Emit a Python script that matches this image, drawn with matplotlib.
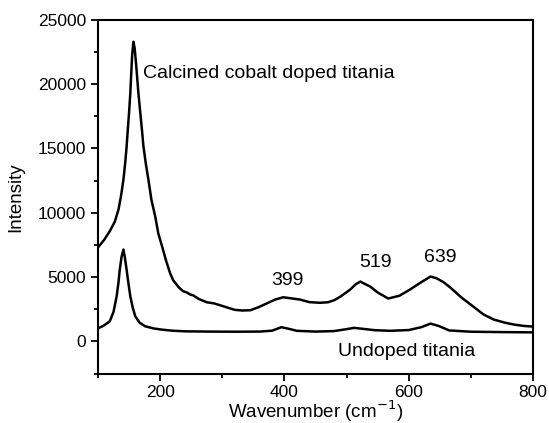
import matplotlib
matplotlib.use("Agg")
import matplotlib.pyplot as plt
from matplotlib.ticker import MultipleLocator

plt.rcParams['font.family'] = ['Liberation Sans', 'DejaVu Sans']

# Raman spectrum, calcined Co-doped TiO2
doped_wn = [100, 110, 119, 127, 133, 137, 141, 144, 146, 148, 150, 152, 153, 155,
            157, 159, 162, 165, 168, 171, 173, 177, 181, 186, 192, 197, 203, 210,
            216, 221, 230, 237, 243, 248, 253, 262, 275, 287, 297, 310, 320, 332,
            345, 358, 372, 385, 398, 410, 425, 440, 457, 470, 480, 490, 505, 515,
            522, 530, 538, 550, 567, 585, 602, 620, 635, 645, 656, 667, 685, 704,
            720, 737, 755, 770, 785, 800]
doped_int = [7300, 7900, 8570, 9300, 10260, 11300, 12600, 14000, 15130, 16500, 17800,
             19300, 20380, 22300, 23300, 22800, 21150, 19300, 17800, 16300, 15200,
             13800, 12600, 11000, 9730, 8400, 7400, 6200, 5300, 4750, 4200, 3900,
             3800, 3650, 3580, 3300, 3040, 2950, 2800, 2600, 2450, 2400, 2420, 2650,
             2960, 3250, 3430, 3350, 3250, 3050, 3000, 3040, 3200, 3480, 4000, 4450,
             4650, 4450, 4260, 3800, 3330, 3550, 4030, 4600, 5040, 4900, 4600, 4180,
             3400, 2700, 2100, 1690, 1450, 1300, 1200, 1150]

# undoped TiO2
undoped_wn = [100, 110, 119, 125, 130, 133, 135, 138, 141, 143, 146, 149, 152, 156,
              160, 167, 176, 190, 203, 220, 240, 280, 320, 360, 380, 395, 405, 420,
              450, 480, 500, 512, 525, 545, 570, 600, 620, 635, 648, 665, 700, 750, 800]
undoped_int = [1000, 1250, 1560, 2300, 3500, 4600, 5580, 6600, 7140, 6600, 5580, 4500,
               3500, 2600, 1950, 1450, 1170, 1000, 910, 830, 780, 760, 750, 760, 830,
               1100, 1000, 820, 760, 800, 950, 1050, 980, 870, 820, 880, 1100, 1380,
               1200, 850, 750, 720, 700]

peak_labels = ['399', '519', '639']
peak_label_pos = [(404, 4750), (546, 6100), (651, 6550)]

fig = plt.figure(figsize=(5.49, 4.23), dpi=100)
ax = fig.add_axes([0.1785, 0.117, 0.7925, 0.836])

ax.plot(doped_wn, doped_int, color='black', lw=1.8)
ax.plot(undoped_wn, undoped_int, color='black', lw=1.8)

ax.text(172, 20850, 'Calcined cobalt doped titania', fontsize=14, va='center', ha='left')
ax.text(596, -800, 'Undoped titania', fontsize=14, va='center', ha='center')
for lab, (x, y) in zip(peak_labels, peak_label_pos):
    ax.text(x, y, lab, fontsize=14, va='center', ha='center')

ax.set_xlim(100, 800)
ax.set_ylim(-2500, 25000)
ax.xaxis.set_major_locator(MultipleLocator(200))
ax.xaxis.set_minor_locator(MultipleLocator(100))
ax.yaxis.set_major_locator(MultipleLocator(5000))
ax.yaxis.set_minor_locator(MultipleLocator(2500))
ax.tick_params(which='major', direction='out', length=5, width=1.3, labelsize=12.5)
ax.tick_params(which='minor', direction='out', length=3, width=1.3)
for s in ax.spines.values():
    s.set_linewidth(1.5)

ax.set_xlabel('Wavenumber (cm$^{-1}$)', fontsize=13.5, labelpad=-1)
ax.set_ylabel('Intensity', fontsize=13.5, labelpad=10)

fig.savefig('out.png', dpi=100)
